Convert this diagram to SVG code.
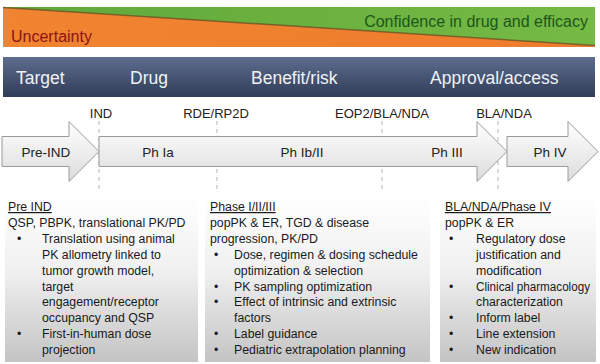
<svg xmlns="http://www.w3.org/2000/svg" width="600" height="364" viewBox="0 0 600 364">
<defs>
<linearGradient id="bar" x1="0" y1="0" x2="0" y2="1"><stop offset="0" stop-color="#5d6d8e"/><stop offset="1" stop-color="#303c58"/></linearGradient>
<linearGradient id="arr" x1="0" y1="0" x2="0" y2="1"><stop offset="0" stop-color="#ffffff"/><stop offset="1" stop-color="#dcdcdc"/></linearGradient>
<linearGradient id="box" x1="0" y1="0" x2="0" y2="1"><stop offset="0" stop-color="#ffffff"/><stop offset="0.45" stop-color="#f0f0f0"/><stop offset="1" stop-color="#c4c4c4"/></linearGradient>
<linearGradient id="grn" x1="0" y1="0" x2="1" y2="0"><stop offset="0" stop-color="#5fa83a"/><stop offset="1" stop-color="#76ba45"/></linearGradient>
<linearGradient id="org" x1="0" y1="0" x2="1" y2="0"><stop offset="0" stop-color="#f08431"/><stop offset="1" stop-color="#ee7c2c"/></linearGradient>
</defs>
<style>
.t{font-family:"Liberation Sans",Arial,sans-serif}
.bar{font-size:17.5px;fill:#eef2f7}
.ms{font-size:13px;fill:#222}
.ph{font-size:13.5px;fill:#222}
.bx{font-size:12.3px;fill:#1a1a1a}
.u{text-decoration:underline}
.arrow{fill:url(#arr);stroke:#9a9a9a;stroke-width:1}
.dash{stroke:#b5b5b5;stroke-width:1;stroke-dasharray:4 4;fill:none}
.panel{fill:url(#box)}
</style>
<rect width="600" height="364" fill="#ffffff"/>
<g id="banner">
<rect x="3" y="7" width="592" height="40" fill="url(#grn)"/>
<polygon points="3,7.5 595,45.5 595,47 3,47" fill="url(#org)"/>
<line x1="3" y1="7.5" x2="595" y2="45.5" stroke="#6e5424" stroke-width="1.5" opacity="0.8"/>
<text class="t" x="11" y="42" font-size="16" fill="#8a1414">Uncertainty</text>
<text class="t" x="588" y="27" font-size="16" fill="#1c561c" text-anchor="end">Confidence in drug and efficacy</text>
</g>
<g id="stagebar">
<rect x="3" y="57" width="592" height="40" fill="url(#bar)"/>
<text class="t bar" x="16" y="84">Target</text>
<text class="t bar" x="130" y="84">Drug</text>
<text class="t bar" x="251" y="84">Benefit/risk</text>
<text class="t bar" x="430" y="84">Approval/access</text>
</g>
<g id="connectors">
<line class="dash" x1="99" y1="121" x2="99" y2="190"/>
<line class="dash" x1="217" y1="121" x2="217" y2="190"/>
<line class="dash" x1="382" y1="121" x2="382" y2="190"/>
<line class="dash" x1="498" y1="121" x2="498" y2="190"/>
</g>
<g id="milestones">
<text class="t ms" x="101" y="118" text-anchor="middle">IND</text>
<text class="t ms" x="216" y="118" text-anchor="middle">RDE/RP2D</text>
<text class="t ms" x="382" y="118" text-anchor="middle">EOP2/BLA/NDA</text>
<text class="t ms" x="504" y="118" text-anchor="middle">BLA/NDA</text>
</g>
<g id="pre-ind">
<polygon class="arrow" points="2,136.5 69,136.5 69,121.5 99,151.5 69,181.5 69,166.5 2,166.5"/>
<text class="t ph" x="46" y="156.5" text-anchor="middle">Pre-IND</text>
</g>
<g id="ph-main">
<polygon class="arrow" points="99,136.5 477,136.5 477,121.5 507,151.5 477,181.5 477,166.5 99,166.5"/>
<text class="t ph" x="158" y="156.5" text-anchor="middle">Ph Ia</text>
<text class="t ph" x="302" y="156.5" text-anchor="middle">Ph Ib/II</text>
<text class="t ph" x="447" y="156.5" text-anchor="middle">Ph III</text>
</g>
<g id="ph-iv">
<polygon class="arrow" points="507,136.5 568,136.5 568,121.5 598,151.5 568,181.5 568,166.5 507,166.5"/>
<text class="t ph" x="550" y="156.5" text-anchor="middle">Ph IV</text>
</g>
<g id="box-preind">
<rect class="panel" x="5" y="196" width="193" height="166"/>
<text class="t bx" x="8" y="211"><tspan class="u">Pre IND</tspan></text>
<text class="t bx" x="8" y="227">QSP, PBPK, translational PK/PD</text>
<text class="t bx" x="17" y="243">•</text><text class="t bx" x="42" y="243">Translation using animal</text>
<text class="t bx" x="42" y="259">PK allometry linked to</text>
<text class="t bx" x="42" y="275">tumor growth model,</text>
<text class="t bx" x="42" y="291">target</text>
<text class="t bx" x="42" y="306">engagement/receptor</text>
<text class="t bx" x="42" y="322">occupancy and QSP</text>
<text class="t bx" x="17" y="338">•</text><text class="t bx" x="42" y="338">First-in-human dose</text>
<text class="t bx" x="42" y="354">projection</text>
</g>
<g id="box-phase">
<rect class="panel" x="205" y="196" width="225" height="166"/>
<text class="t bx" x="210" y="211"><tspan class="u">Phase I/II/III</tspan></text>
<text class="t bx" x="210" y="227">popPK &amp; ER, TGD &amp; disease</text>
<text class="t bx" x="210" y="243">progression, PK/PD</text>
<text class="t bx" x="214" y="259">•</text><text class="t bx" x="234" y="259">Dose, regimen &amp; dosing schedule</text>
<text class="t bx" x="234" y="275">optimization &amp; selection</text>
<text class="t bx" x="214" y="291">•</text><text class="t bx" x="234" y="291">PK sampling optimization</text>
<text class="t bx" x="214" y="306">•</text><text class="t bx" x="234" y="306">Effect of intrinsic and extrinsic</text>
<text class="t bx" x="234" y="322">factors</text>
<text class="t bx" x="214" y="338">•</text><text class="t bx" x="234" y="338">Label guidance</text>
<text class="t bx" x="214" y="354">•</text><text class="t bx" x="234" y="354">Pediatric extrapolation planning</text>
</g>
<g id="box-approval">
<rect class="panel" x="440" y="196" width="156" height="166"/>
<text class="t bx" x="445" y="211"><tspan class="u">BLA/NDA/Phase IV</tspan></text>
<text class="t bx" x="445" y="227">popPK &amp; ER</text>
<text class="t bx" x="449" y="243">•</text><text class="t bx" x="476" y="243">Regulatory dose</text>
<text class="t bx" x="476" y="259">justification and</text>
<text class="t bx" x="476" y="275">modification</text>
<text class="t bx" x="449" y="291">•</text><text class="t bx" x="476" y="291" textLength="114" lengthAdjust="spacingAndGlyphs">Clinical pharmacology</text>
<text class="t bx" x="476" y="306">characterization</text>
<text class="t bx" x="449" y="322">•</text><text class="t bx" x="476" y="322">Inform label</text>
<text class="t bx" x="449" y="338">•</text><text class="t bx" x="476" y="338">Line extension</text>
<text class="t bx" x="449" y="354">•</text><text class="t bx" x="476" y="354">New indication</text>
</g>
</svg>
